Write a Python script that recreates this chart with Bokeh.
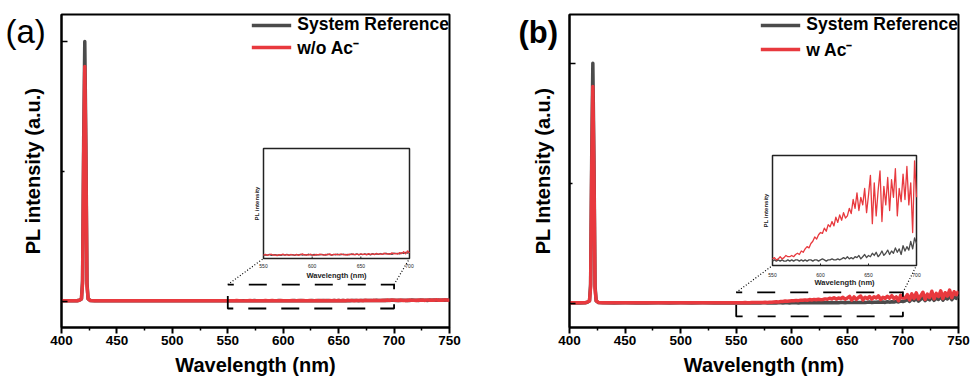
import math
from bokeh.plotting import figure
from bokeh.layouts import row
from bokeh.models import Range1d, FixedTicker, Legend, LegendItem, Title
from bokeh.core.properties import value
from bokeh.embed import file_html
from bokeh.resources import INLINE

FONT = "Liberation Sans"
GRAY = "#4b4b4b"
RED = "#e8393e"

# ---------------- data (normalised PL intensity, peak of reference = 100) ----------------
wl_pre = [400, 405, 410, 414, 416, 418, 419, 420, 421, 422, 423, 424, 426,
          430, 440, 450, 460, 470, 480, 490, 500, 510, 520, 530, 540, 548]
wl_mid = list(range(550, 701, 2))
wl_post = list(range(702, 751, 2))

a_ref_pre = [0.3, 0.32, 0.29, 0.31, 0.5, 1.0, 8, 62, 100, 60, 7, 1.0, 0.4,
             0.3, 0.29, 0.32, 0.3, 0.28, 0.31, 0.3, 0.32, 0.29, 0.31, 0.3, 0.28, 0.3]
a_sam_pre = [0.3, 0.31, 0.3, 0.32, 0.5, 1.0, 7, 56, 90.4, 54, 6, 1.0, 0.4,
             0.31, 0.3, 0.29, 0.32, 0.3, 0.28, 0.31, 0.3, 0.33, 0.29, 0.3, 0.31, 0.29]
a_ref_mid = [0.25, 0.30, 0.27, 0.33, 0.26, 0.29, 0.32, 0.27, 0.30, 0.26,
             0.31, 0.28, 0.34, 0.27, 0.30, 0.32, 0.26, 0.31, 0.29, 0.33,
             0.28, 0.32, 0.27, 0.35, 0.30, 0.28, 0.33, 0.27, 0.31, 0.29,
             0.34, 0.30, 0.28, 0.36, 0.31, 0.27, 0.33, 0.30, 0.35, 0.29,
             0.32, 0.36, 0.30, 0.34, 0.29, 0.37, 0.31, 0.33, 0.38, 0.30,
             0.35, 0.31, 0.39, 0.33, 0.36, 0.30, 0.40, 0.34, 0.37, 0.33,
             0.41, 0.35, 0.38, 0.43, 0.36, 0.40, 0.34, 0.44, 0.39, 0.42,
             0.37, 0.46, 0.41, 0.50, 0.44, 0.52]
a_sam_mid = [0.28, 0.33, 0.26, 0.31, 0.35, 0.27, 0.30, 0.24, 0.32, 0.29,
             0.36, 0.27, 0.31, 0.25, 0.33, 0.30, 0.28, 0.34, 0.26, 0.31,
             0.38, 0.29, 0.32, 0.27, 0.35, 0.30, 0.26, 0.33, 0.29, 0.36,
             0.31, 0.27, 0.34, 0.30, 0.38, 0.28, 0.32, 0.35, 0.29, 0.33,
             0.37, 0.30, 0.34, 0.28, 0.36, 0.32, 0.39, 0.30, 0.35, 0.31,
             0.38, 0.33, 0.36, 0.30, 0.40, 0.34, 0.37, 0.32, 0.42, 0.35,
             0.38, 0.33, 0.44, 0.36, 0.40, 0.34, 0.46, 0.38, 0.42, 0.36,
             0.48, 0.40, 0.55, 0.38, 0.62, 0.45]
a_ref_post = [0.40, 0.48, 0.36, 0.52, 0.43, 0.50, 0.38, 0.55, 0.45, 0.49,
              0.41, 0.57, 0.46, 0.53, 0.40, 0.58, 0.48, 0.55, 0.44, 0.60,
              0.50, 0.56, 0.47, 0.62, 0.54]
a_sam_post = [0.45, 0.38, 0.55, 0.42, 0.50, 0.36, 0.58, 0.44, 0.52, 0.40,
              0.60, 0.47, 0.54, 0.42, 0.62, 0.48, 0.56, 0.44, 0.65, 0.50,
              0.58, 0.46, 0.66, 0.52, 0.60]

b_ref_pre = [0.15, 0.18, 0.14, 0.16, 0.4, 1.0, 8, 62, 100, 60, 7, 1.0, 0.3,
             0.16, 0.14, 0.17, 0.15, 0.13, 0.16, 0.15, 0.17, 0.14, 0.16, 0.15, 0.14, 0.16]
b_sam_pre = [0.2, 0.22, 0.19, 0.21, 0.5, 1.0, 7, 56, 90.3, 54, 6, 1.0, 0.35,
             0.21, 0.19, 0.22, 0.20, 0.18, 0.21, 0.20, 0.22, 0.19, 0.21, 0.20, 0.19, 0.21]
b_ref_mid = [0.14, 0.18, 0.14, 0.18, 0.14, 0.18, 0.14, 0.14, 0.18,
             0.14, 0.18, 0.14, 0.18, 0.18, 0.14, 0.18, 0.14, 0.18, 0.14, 0.18, 0.18,
             0.14, 0.18, 0.18, 0.14, 0.18, 0.21, 0.18, 0.14, 0.18, 0.18,
             0.21, 0.18, 0.18, 0.21, 0.18, 0.21, 0.25, 0.21, 0.28, 0.21,
             0.25, 0.21, 0.28, 0.25, 0.32, 0.21, 0.28, 0.35, 0.25, 0.32,
             0.28, 0.39, 0.32, 0.42, 0.28, 0.35, 0.46, 0.32, 0.39, 0.49,
             0.35, 0.46, 0.39, 0.56, 0.42, 0.53, 0.35, 0.63, 0.46, 0.60,
             0.49, 0.77, 0.53, 0.88, 0.70]
b_sam_mid = [0.21, 0.25, 0.18, 0.21, 0.28, 0.21, 0.25, 0.32, 0.28,
             0.28, 0.32, 0.28, 0.35, 0.39, 0.35, 0.46, 0.42, 0.53, 0.60, 0.56, 0.70,
             0.77, 0.91, 0.84, 0.98, 1.05, 1.02, 1.19, 1.09, 1.30, 1.23,
             1.40, 1.26, 1.54, 1.37, 1.61, 1.44, 1.68, 1.51, 1.58, 1.82,
             1.65, 2.10, 1.82, 2.31, 1.75, 2.17, 1.93, 2.45, 1.68, 2.24,
             2.87, 1.33, 2.63, 1.58, 2.38, 3.01, 1.40, 2.52, 1.93, 2.80,
             1.75, 2.73, 2.17, 3.08, 1.58, 2.45, 2.03, 2.91, 2.10, 3.15,
             1.93, 2.63, 1.05, 3.33, 2.17]
b_ref_post = [1.0, 1.6, 0.8, 1.9, 1.2, 2.1, 0.9, 1.7, 2.3, 1.1,
              2.0, 1.4, 2.6, 1.2, 2.2, 1.6, 2.8, 1.3, 2.4, 1.8,
              3.0, 1.5, 2.7, 2.0, 3.2]
b_sam_post = [2.2, 3.6, 1.4, 3.9, 2.0, 4.3, 1.8, 3.1, 4.6, 1.6,
              3.8, 2.4, 5.0, 1.9, 4.1, 2.8, 5.2, 2.0, 4.4, 3.0,
              5.5, 2.3, 4.8, 3.5, 5.0]

x_ticks = [400, 450, 500, 550, 600, 650, 700, 750]
x_minor = [425, 475, 525, 575, 625, 675, 725]
y_ticks = [0, 100]
y_minor = [50]
inset_ticks = [550, 600, 650, 700]
inset_tick_labels = ["550", "600", "650", "700"]
zoom_window = (550, 700)

FH = 313


def make_panel(cfg):
    FW = cfg["fw"]
    ybot, ytop = cfg["yr"]
    p = figure(frame_width=FW, frame_height=FH,
               x_range=Range1d(400, 750), y_range=Range1d(ybot, ytop),
               min_border_left=cfg["bl"], min_border_right=cfg["br"],
               min_border_top=14, min_border_bottom=56,
               output_backend="svg", toolbar_location=None, tools="",
               background_fill_color="white", border_fill_color="white")
    p.xgrid.visible = False
    p.ygrid.visible = False
    p.outline_line_color = "black"
    p.outline_line_width = 2
    p.outline_line_alpha = 1

    xa = p.xaxis[0]
    xa.ticker = FixedTicker(ticks=x_ticks, minor_ticks=x_minor)
    xa.axis_line_width = 2
    xa.major_tick_line_width = 2
    xa.major_tick_in = 0
    xa.major_tick_out = 6
    xa.minor_tick_line_width = 1.5
    xa.minor_tick_in = 0
    xa.minor_tick_out = 3
    xa.major_label_text_font = FONT
    xa.major_label_text_font_style = "bold"
    xa.major_label_text_font_size = "13.5px"
    xa.major_label_text_color = "black"
    xa.major_label_standoff = 2
    xa.axis_label = "Wavelength (nm)"
    xa.axis_label_text_font = FONT
    xa.axis_label_text_font_style = "bold"
    xa.axis_label_text_font_size = "20px"
    xa.axis_label_text_color = "black"
    xa.axis_label_standoff = 6

    ya = p.yaxis[0]
    ya.ticker = FixedTicker(ticks=y_ticks, minor_ticks=y_minor)
    ya.axis_line_width = 2
    ya.major_tick_line_width = 1.5
    ya.major_tick_in = 6
    ya.major_tick_out = 0
    ya.minor_tick_line_width = 1.5
    ya.minor_tick_in = 3
    ya.minor_tick_out = 0
    ya.major_label_text_font_size = "0px"
    ya.major_label_overrides = {0: "", 100: ""}
    ya.major_label_standoff = 0
    ya.axis_label = cfg["ylabel"]
    ya.axis_label_text_font = FONT
    ya.axis_label_text_font_style = "bold"
    ya.axis_label_text_font_size = "20px"
    ya.axis_label_text_color = "black"
    ya.axis_label_standoff = cfg["ystand"]

    x_all = wl_pre + wl_mid + wl_post
    ref_all = cfg["ref_pre"] + cfg["ref_mid"] + cfg["ref_post"]
    sam_all = cfg["sam_pre"] + cfg["sam_mid"] + cfg["sam_post"]
    r_ref = p.line(x_all, ref_all, line_color=GRAY, line_width=3.5, line_join="round")
    r_sam = p.line(x_all, sam_all, line_color=RED, line_width=3.5, line_join="round")

    z0, z1 = zoom_window
    rt, rb = cfg["rect_y"]
    p.line([z0, z1, z1, z0, z0], [rt, rt, rb, rb, rt], line_color="black",
           line_width=1.8, line_dash="18 15", line_dash_offset=12)

    ix0, ix1, iy0, iy1 = cfg["inset_px"]
    ymax_i = cfg["inset_ymax"]
    sx = (z1 - z0) / (ix1 - ix0)
    sy = ymax_i / (iy1 - iy0)
    p.extra_x_ranges = {"ix": Range1d(z0 - ix0 * sx, z1 + (FW - ix1) * sx)}
    p.extra_y_ranges = {"iy": Range1d(-(FH - iy1) * sy, ymax_i + iy0 * sy)}

    ux = 350.0 / FW
    uy = (ytop - ybot) / FH
    inset_bl_x = 400 + ix0 * ux
    inset_br_x = 400 + ix1 * ux
    inset_b_y = ytop - iy1 * uy
    p.line([z0, inset_bl_x], [rt, inset_b_y], line_color="black", line_width=1.2, line_dash="1 2")
    p.line([z1, inset_br_x], [rt, inset_b_y], line_color="black", line_width=1.2, line_dash="1 2")

    kw = dict(x_range_name="ix", y_range_name="iy")
    p.quad(left=[z0], right=[z1], bottom=[0], top=[ymax_i], fill_color="white",
           line_color="#222222", line_width=1.5, **kw)
    p.line(wl_mid, cfg["ref_mid"], line_color=GRAY, line_width=1.3, line_join="round", **kw)
    p.line(wl_mid, cfg["sam_mid"], line_color=RED, line_width=1.3, line_join="round", **kw)
    p.segment(x0=inset_ticks, y0=[0] * 4, x1=inset_ticks, y1=[2 * sy] * 4,
              line_color="#222222", line_width=1, **kw)
    p.text(x=inset_ticks, y=[0] * 4, text=inset_tick_labels, y_offset=cfg["itick_off"],
           text_font=value(FONT), text_font_size="5px", text_align="center",
           text_baseline="middle", text_color="#222222", **kw)
    p.text(x=[(z0 + z1) / 2], y=[0], text=["Wavelength (nm)"], y_offset=cfg["ititle_off"],
           text_font=value(FONT), text_font_size="7.5px", text_font_style="bold",
           text_align="center", text_baseline="middle", text_color="#222222", **kw)
    p.text(x=[z0], y=[ymax_i / 2], text=["PL intensity"], x_offset=-7, angle=math.pi / 2,
           text_font=value(FONT), text_font_size="6px", text_font_style="bold",
           text_align="center", text_baseline="middle", text_color="#222222", **kw)

    legend = Legend(items=[LegendItem(label="System Reference", renderers=[r_ref]),
                           LegendItem(label=cfg["sam_label"], renderers=[r_sam])],
                    location="top_right", margin=0, padding=cfg["lpad"], spacing=cfg["lspace"],
                    glyph_width=40, glyph_height=18, label_standoff=6,
                    label_text_font=FONT, label_text_font_style="bold",
                    label_text_font_size="17.5px", label_text_color="black",
                    border_line_color=None, background_fill_alpha=0)
    p.add_layout(legend)

    # panel letter, placed in the top-left border
    p.add_layout(Title(text=cfg["plab"], align="left", offset=cfg["plab_dx"], standoff=-70,
                       text_font=FONT, text_font_size=cfg["plab_size"],
                       text_font_style=cfg["plab_style"], text_color="black"), "above")
    return p


cfg_a = dict(fw=388, yr=(-10.0, 110.38), bl=61, br=36, ylabel="PL intensity (a.u.)", ystand=18,
             ref_pre=a_ref_pre, ref_mid=a_ref_mid, ref_post=a_ref_post,
             sam_pre=a_sam_pre, sam_mid=a_sam_mid, sam_post=a_sam_post,
             rect_y=(6.5, -2.7), inset_px=(202, 348, 134, 244), inset_ymax=9.0,
             itick_off=7, ititle_off=17, sam_label="w/o Ac\u207b", lpad=4, lspace=0,
             plab="(a)", plab_dx=-56, plab_style="normal", plab_size="33px")
cfg_b = dict(fw=389, yr=(-10.1, 120.3), bl=84, br=12, ylabel="PL Intensity (a.u.)", ystand=16,
             ref_pre=b_ref_pre, ref_mid=b_ref_mid, ref_post=b_ref_post,
             sam_pre=b_sam_pre, sam_mid=b_sam_mid, sam_post=b_sam_post,
             rect_y=(4.5, -5.5), inset_px=(203, 347, 141, 251), inset_ymax=3.5,
             itick_off=9, ititle_off=17, sam_label="w Ac\u207b", lpad=5, lspace=2,
             plab="(b)", plab_dx=-51, plab_style="bold", plab_size="31px")

pa = make_panel(cfg_a)
pb = make_panel(cfg_b)
layout = row(pa, pb, spacing=0)

open("out.html", "w").write(file_html(layout, INLINE))
